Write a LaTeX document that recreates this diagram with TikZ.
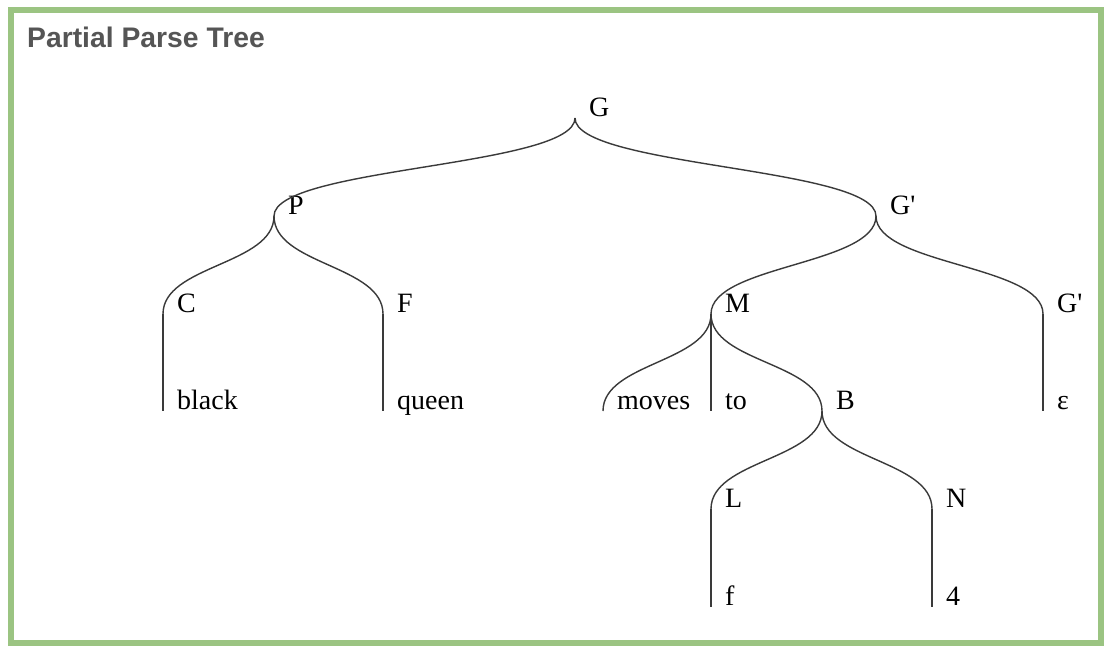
\documentclass[tikz,border=0pt]{standalone}
\usepackage{fontspec}
\setmainfont{Liberation Serif}
\newfontfamily\titlefont{Liberation Sans}
\usetikzlibrary{calc}
\definecolor{frame}{HTML}{9BC482}
\definecolor{titlegray}{HTML}{555555}
\definecolor{linkcol}{HTML}{3A3A3A}
\tikzset{
  link/.style={draw=linkcol, line width=1.4pt},
  lbl/.style={anchor=base west, inner sep=0pt, font=\fontsize{28}{31}\selectfont},
}
\newcommand\treelink[2]{\draw[link] let \p1=(#1), \p2=(#2) in (#1) .. controls (\x1,{0.5*(\y1+\y2)}) and (\x2,{0.5*(\y1+\y2)}) .. (#2);}
\newcommand\gprime{G\textquotesingle}
\begin{document}
\begin{tikzpicture}[x=1pt,y=-1pt]
\useasboundingbox (0,0) rectangle (1116,648);
\fill[white] (0,0) rectangle (1116,648);
\draw[frame, line width=5.5pt] (11,10) rectangle (1101,643);
\node[anchor=base west, inner sep=0pt, text=titlegray, font=\titlefont\bfseries\fontsize{28.3}{31}\selectfont] (title) at (27,47) {Partial Parse Tree};
% junction points
\coordinate (G) at (575,118);
\coordinate (P) at (274,216);
\coordinate (Gp) at (876,216);
\coordinate (C) at (163,314);
\coordinate (F) at (383,314);
\coordinate (M) at (711,314);
\coordinate (Gq) at (1043,314);
\coordinate (black) at (163,411);
\coordinate (queen) at (383,411);
\coordinate (moves) at (603,411);
\coordinate (to) at (711,411);
\coordinate (B) at (822,411);
\coordinate (eps) at (1043,411);
\coordinate (L) at (711,509);
\coordinate (N) at (932,509);
\coordinate (f) at (711,607);
\coordinate (four) at (932,607);
% labels
\foreach \c/\t in {G/G,P/P,Gp/\gprime,C/C,F/F,M/M,Gq/\gprime,black/black,queen/queen,moves/moves,to/to,B/B,eps/ε,L/L,N/N,f/f,four/4}{
  \node[lbl] (l\c) at ($(\c)+(14,-2)$) {\t};
}
% links
\treelink{G}{P}
\treelink{G}{Gp}
\treelink{P}{C}
\treelink{P}{F}
\treelink{Gp}{M}
\treelink{Gp}{Gq}
\draw[link] (C) -- (black);
\draw[link] (F) -- (queen);
\treelink{M}{moves}
\draw[link] (M) -- (to);
\treelink{M}{B}
\draw[link] (Gq) -- (eps);
\treelink{B}{L}
\treelink{B}{N}
\draw[link] (L) -- (f);
\draw[link] (N) -- (four);
\end{tikzpicture}
\end{document}
